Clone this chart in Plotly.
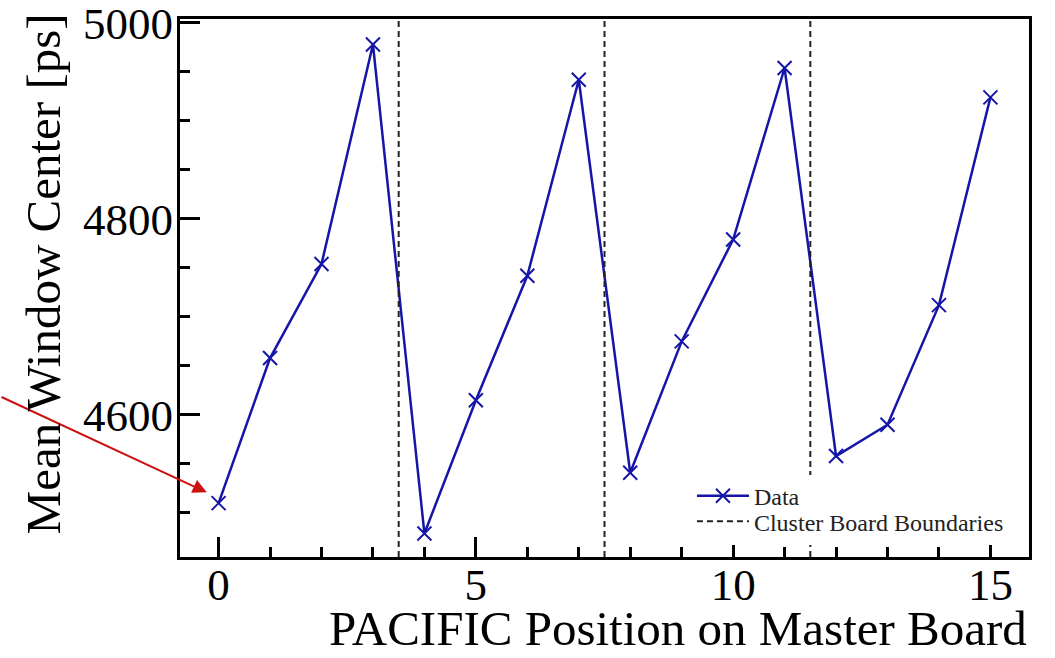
import plotly.graph_objects as go

# PACIFIC chip positions on the master board and their mean window centres
positions = list(range(16))
mean_center_ps = [4510, 4658, 4754, 4978,
                  4479, 4615, 4742, 4942,
                  4541, 4675, 4779, 4954,
                  4558, 4590, 4712, 4924]

# Cluster board boundaries sit between every group of four chips
boundaries = [3.5, 7.5, 11.5]

x_range = [-0.75, 15.75]
y_range = [4455, 5004]

FONT = "Liberation Serif"
BLUE = "#1515a8"

fig = go.Figure()

fig.add_trace(go.Scatter(
    x=positions, y=mean_center_ps,
    mode="lines+markers",
    name="Data",
    legend="legend",
    line=dict(color=BLUE, width=2.5),
    marker=dict(symbol="x-thin-open", size=14, color=BLUE,
                line=dict(color=BLUE, width=2)),
))

# Vertical dashed boundary lines spanning the full y range
bx, by = [], []
for b in boundaries:
    bx += [b, b, None]
    by += [y_range[0], y_range[1], None]
fig.add_trace(go.Scatter(
    x=bx, y=by, mode="lines",
    name="Cluster Board Boundaries",
    legend="legend2",
    line=dict(color="#222222", width=2, dash="6px,4px"),
))

# Opaque legend panel in the lower right of the frame
fig.add_shape(
    type="rect", xref="paper", yref="paper",
    x0=0.6007, x1=0.9835, y0=0.0223, y1=0.1524,
    fillcolor="white", line=dict(width=0), layer="above",
)

# Arrow pointing at the first chip
fig.add_annotation(
    x=-0.23, y=4521, xref="x", yref="y",
    ax=-212, ay=-96, axref="pixel", ayref="pixel",
    text="", showarrow=True,
    arrowhead=2, arrowsize=1.4, arrowwidth=2, arrowcolor="#cc1111",
)

# Axis titles, right-aligned against the frame
fig.add_annotation(
    text="PACIFIC Position on Master Board",
    xref="paper", yref="paper", x=1.0, y=-0.1877, xanchor="right", yanchor="bottom",
    showarrow=False, font=dict(family=FONT, size=49, color="black"),
)
fig.add_annotation(
    text="Mean Window Center [ps]", textangle=-90,
    xref="paper", yref="paper", x=-0.1614, y=1.015, xanchor="center", yanchor="top",
    showarrow=False, font=dict(family=FONT, size=49, color="black"),
)

axis_common = dict(
    showline=True, linecolor="black", linewidth=3, mirror=True,
    ticks="inside", tickcolor="black", tickwidth=2.5, ticklen=20,
    showgrid=False, zeroline=False, automargin=False,
    ticklabeloverflow="allow",
    tickfont=dict(family=FONT, size=45, color="black"),
)

fig.update_xaxes(
    range=x_range, tick0=0, dtick=5, ticklabelstandoff=-14,
    minor=dict(ticks="inside", dtick=1, ticklen=10, tickwidth=2.5, tickcolor="black", showgrid=False),
    **axis_common,
)
fig.update_yaxes(
    range=y_range, tick0=0, dtick=200, ticklabelstandoff=-5,
    minor=dict(ticks="inside", dtick=50, ticklen=10, tickwidth=2.5, tickcolor="black", showgrid=False),
    **axis_common,
)

legend_common = dict(
    xanchor="left", yanchor="top",
    bgcolor="rgba(0,0,0,0)", borderwidth=0,
    font=dict(family=FONT, size=24, color="#222222"),
    itemwidth=52,
)

fig.update_layout(
    width=1055, height=658,
    margin=dict(l=180, r=26, t=19, b=101),
    paper_bgcolor="white", plot_bgcolor="white",
    showlegend=True,
    legend=dict(x=0.603, y=0.155, **legend_common),
    legend2=dict(x=0.603, y=0.1074, **legend_common),
    font=dict(family=FONT),
)

fig.write_html("out.html")
